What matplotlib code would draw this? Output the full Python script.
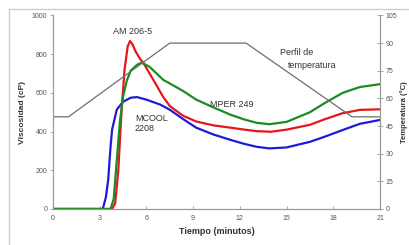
import matplotlib
matplotlib.use("Agg")
from matplotlib import pyplot as plt
from matplotlib.lines import Line2D

plt.rcParams['font.family'] = ['Liberation Sans', 'DejaVu Sans']

# Data
t_red = [0, 3.8, 4.0, 4.2, 4.4, 4.6, 4.8, 4.95, 5.1, 5.3, 5.6, 5.8, 6.55, 7.07, 7.5,
         8.35, 9.2, 10.3, 11.4, 12.3, 13.1, 14.0, 15.0, 16.5, 17.5, 18.6, 19.7, 21]
v_red = [0, 0, 30, 200, 500, 720, 840, 868, 852, 815, 775, 756, 653, 580, 532,
         482, 452, 432, 420, 410, 402, 399, 410, 435, 465, 495, 512, 515]

t_green = [0, 3.7, 3.9, 4.1, 4.3, 4.5, 4.75, 5.0, 5.4, 5.7, 6.2, 7.07, 8.35, 9.2,
           10.3, 11.4, 12.3, 13.1, 13.9, 15.0, 16.5, 17.5, 18.6, 19.7, 21]
v_green = [0, 0, 50, 250, 450, 580, 665, 715, 745, 756, 735, 668, 610, 565,
           525, 487, 462, 445, 438, 450, 500, 550, 600, 630, 645]

t_blue = [0, 3.2, 3.4, 3.55, 3.7, 3.8, 4.1, 4.5, 5.0, 5.4, 6.0, 6.9, 7.5, 8.35,
          9.2, 10.3, 11.4, 12.3, 13.1, 13.9, 15.0, 16.5, 17.5, 18.6, 19.7, 21]
v_blue = [0, 0, 60, 150, 320, 410, 513, 554, 575, 578, 565, 539, 513, 465,
          420, 385, 357, 336, 321, 313, 318, 347, 375, 408, 440, 460]

t_temp = [0, 1.0, 7.5, 12.4, 19.2, 21]
v_temp = [50, 50, 90, 90, 50, 50]

x_ticks = [0, 3, 6, 9, 12, 15, 18, 21]
visc_ticks = [0, 200, 400, 600, 800, 1000]
temp_ticks = [0, 15, 30, 45, 60, 75, 90, 105]

# Plot
fig = plt.figure(figsize=(4.1, 2.45), dpi=100)
ax = fig.add_axes([0.129, 0.147, 0.798, 0.79])
ax2 = ax.twinx()

ax.plot(t_blue, v_blue, color='#1c1cd6', lw=1.6)
ax.plot(t_red, v_red, color='#e8161c', lw=1.6)
ax.plot(t_green, v_green, color='#1a8c22', lw=1.6)
ax2.plot(t_temp, v_temp, color='#6e6e6e', lw=0.9)

ax.set_xlim(0, 21)
ax.set_ylim(0, 1000)
ax2.set_ylim(0, 105)
ax.set_xticks(x_ticks)
ax.set_yticks(visc_ticks)
ax2.set_yticks(temp_ticks)

gray = '#9a9a9a'
for a in (ax, ax2):
    a.spines['top'].set_visible(False)
    for s in ('left', 'right', 'bottom'):
        a.spines[s].set_color(gray)
        a.spines[s].set_linewidth(0.8)
ax.tick_params(axis='y', direction='out', length=2, width=0.6, colors=gray,
               labelcolor='#555555', labelsize=5, pad=2)
ax.tick_params(axis='x', direction='in', length=2, width=0.6, colors=gray,
               labelcolor='#555555', labelsize=5, pad=4)
ax2.tick_params(axis='y', direction='inout', length=4, width=0.6, colors=gray,
                labelcolor='#555555', labelsize=5, pad=2)

ax.set_xlabel('Tiempo (minutos)', fontsize=6.5, fontweight='bold', color='#333333', labelpad=4)
ax.set_ylabel('Viscosidad (cP)', fontsize=6, fontweight='bold', color='#333333', labelpad=4)
ax2.set_ylabel('Temperatura (°C)', fontsize=5.5, fontweight='bold', color='#333333', labelpad=2)

# Annotations
tc = '#333333'
ax.text(5.1, 917, 'AM 206-5', fontsize=6.5, color=tc, ha='center', va='center')
ax.text(5.27, 466, 'MCOOL', fontsize=6.5, color=tc, ha='left', va='center')
ax.text(5.27, 414, '2208', fontsize=6.5, color=tc, ha='left', va='center')
ax.text(10.1, 539, 'MPER 249', fontsize=6.5, color=tc, ha='left', va='center')
ax.text(14.6, 808, 'Perfil de', fontsize=6.5, color=tc, ha='left', va='center')
ax.text(15.1, 741, 'temperatura', fontsize=6.5, color=tc, ha='left', va='center')

# light outer frame
fig.add_artist(Line2D([0.022, 0.022], [0, 0.962], color='#cccccc', lw=1))
fig.add_artist(Line2D([0.022, 1.0], [0.962, 0.962], color='#cccccc', lw=1))

fig.savefig('out.png', dpi=100)
